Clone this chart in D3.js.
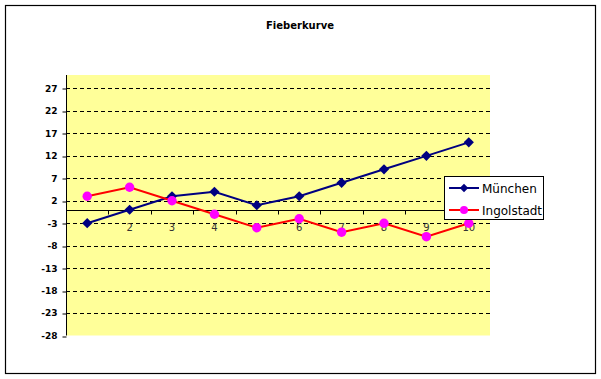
<!DOCTYPE html>
<html><head><meta charset="utf-8">
<script src="https://cdn.jsdelivr.net/npm/d3@7"></script>
<style>body{margin:0;background:#fff}svg{display:block}</style>
</head><body>
<script>
const categories = [1,2,3,4,5,6,7,8,9,10];
const muenchen = [-3,0,3,4,1,3,6,9,12,15];
const ingolstadt = [3,5,2,-1,-4,-2,-5,-3,-6,-3];
const yTicks = [-28,-23,-18,-13,-8,-3,2,7,12,17,22,27];
const seriesNames = ["München","Ingolstadt"];
const title = "Fieberkurve";

const W = 601, H = 379;
const svg = d3.select("body").append("svg").attr("width", W).attr("height", H);
svg.append("rect").attr("x",5.5).attr("y",5.5).attr("width",590).attr("height",368)
  .attr("fill","#fff").attr("stroke","#000").attr("stroke-width",1.2);

svg.append("text").attr("x",300).attr("y",29).attr("text-anchor","middle")
  .attr("font-family","DejaVu Sans, Verdana, sans-serif").attr("font-size",10).attr("font-weight","bold")
  .text(title);

const L = 66, R = 490, T = 75, B = 335.5;
const x = d3.scaleBand().domain(categories).range([L,R]);
const y = d3.scaleLinear().domain([-28,30]).range([B,T]);

svg.append("rect").attr("x",L).attr("y",T).attr("width",R-L).attr("height",B-T).attr("fill","#FFFF99");

// gridlines
svg.append("g").selectAll("line").data(yTicks.filter(v=>v>-28)).join("line")
  .attr("x1",L).attr("x2",R).attr("y1",d=>Math.round(y(d))+0.5).attr("y2",d=>Math.round(y(d))+0.5)
  .attr("stroke","#000").attr("stroke-dasharray","4,3").attr("stroke-width",1);

// y axis
const yAxis = d3.axisLeft(y).tickValues(yTicks).tickFormat(d=>String(d)).tickSize(4).tickSizeOuter(0);
const gy = svg.append("g").attr("transform",`translate(${L+0.5},0)`).call(yAxis);
gy.select(".domain").attr("d",`M0,${T}V${B}`);
gy.selectAll(".tick line").attr("transform",d=>`translate(0,${Math.round(y(d))+0.5-y(d)})`);
gy.selectAll("text").attr("font-family","DejaVu Sans, Verdana, sans-serif").attr("font-size",9).attr("font-weight","bold").attr("x",-9).attr("fill","#000");

// x axis at 0
const y0 = Math.round(y(0))+0.5;
const gx = svg.append("g").attr("transform",`translate(0,${y0})`);
gx.append("line").attr("x1",L).attr("x2",R).attr("stroke","#000");
gx.selectAll("line.t").data(categories.slice(1)).join("line").attr("class","t")
  .attr("x1",d=>Math.round(x(d))+0.5).attr("x2",d=>Math.round(x(d))+0.5).attr("y1",0).attr("y2",4).attr("stroke","#000");
gx.selectAll("text").data(categories.slice(1)).join("text")
  .attr("x",d=>x(d)+x.bandwidth()/2).attr("y",20).attr("text-anchor","middle")
  .attr("font-family","DejaVu Sans, Verdana, sans-serif").attr("font-size",10).attr("fill","#333")
  .text(d=>d);

const cx = d => x(d)+x.bandwidth()/2;
const line = d3.line().x((d,i)=>cx(categories[i])).y(d=>y(d));

svg.append("path").datum(muenchen).attr("d",line).attr("fill","none").attr("stroke","#000080").attr("stroke-width",2);
svg.append("path").datum(ingolstadt).attr("d",line).attr("fill","none").attr("stroke","#FF0000").attr("stroke-width",2);

svg.append("g").selectAll("path").data(muenchen).join("path")
  .attr("transform",(d,i)=>`translate(${cx(categories[i])},${y(d)}) rotate(45)`)
  .attr("d",d3.symbol().type(d3.symbolSquare).size(52)).attr("fill","#000080");
svg.append("g").selectAll("circle").data(ingolstadt).join("circle")
  .attr("cx",(d,i)=>cx(categories[i])).attr("cy",d=>y(d)).attr("r",4.7).attr("fill","#FF00FF");

// legend
const lg = svg.append("g");
lg.append("rect").attr("x",444.5).attr("y",176.5).attr("width",99).attr("height",43).attr("fill","#fff").attr("stroke","#000");
const colors = [["#000080","#000080"],["#FF0000","#FF00FF"]];
seriesNames.forEach((n,i)=>{
  const yy = 188 + i*22;
  lg.append("line").attr("x1",449).attr("x2",479).attr("y1",yy).attr("y2",yy).attr("stroke",colors[i][0]).attr("stroke-width",2);
  if(i===0) lg.append("path").attr("transform",`translate(464,${yy}) rotate(45)`).attr("d",d3.symbol().type(d3.symbolSquare).size(36)).attr("fill",colors[i][1]);
  else lg.append("circle").attr("cx",464).attr("cy",yy).attr("r",4).attr("fill",colors[i][1]);
  lg.append("text").attr("x",482).attr("y",yy+4.5).attr("font-family","DejaVu Sans, Verdana, sans-serif").attr("font-size",12).attr("fill","#000").text(n);
});
</script>
</body></html>
